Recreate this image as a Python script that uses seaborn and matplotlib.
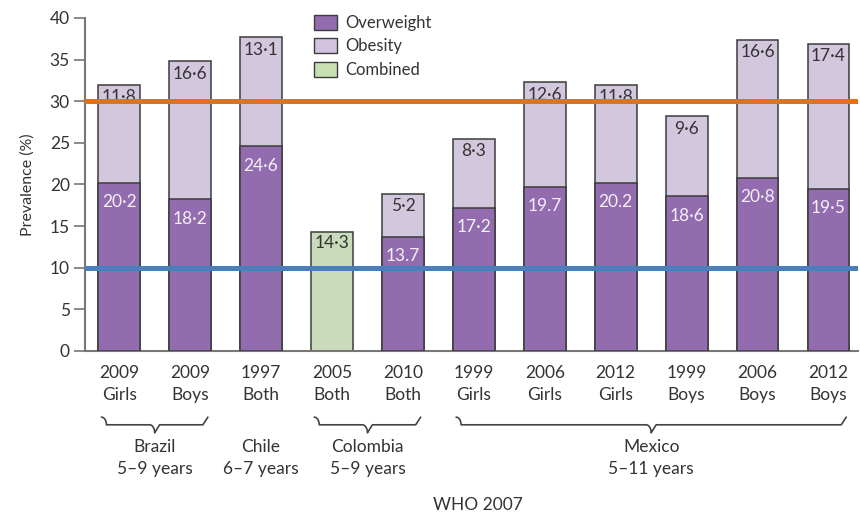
import numpy as np
import pandas as pd
import seaborn as sns
import matplotlib.pyplot as plt
from matplotlib.patches import Patch

# Datos
anios = ["2009", "2009", "1997", "2005", "2010", "1999", "2006", "2012", "1999", "2006", "2012"]
sexos = ["Girls", "Boys", "Both", "Both", "Both", "Girls", "Girls", "Girls", "Boys", "Boys", "Boys"]
sobrepeso = [20.2, 18.2, 24.6, np.nan, 13.7, 17.2, 19.7, 20.2, 18.6, 20.8, 19.5]
obesidad = [11.8, 16.6, 13.1, np.nan, 5.2, 8.3, 12.6, 11.8, 9.6, 16.6, 17.4]
combinado = [np.nan, np.nan, np.nan, 14.3, np.nan, np.nan, np.nan, np.nan, np.nan, np.nan, np.nan]
etq_sobrepeso = ["20·2", "18·2", "24·6", "", "13.7", "17·2", "19.7", "20.2", "18·6", "20·8", "19·5"]
etq_obesidad = ["11·8", "16·6", "13·1", "", "5·2", "8·3", "12·6", "11·8", "9·6", "16·6", "17·4"]
etq_combinado = ["", "", "", "14·3", "", "", "", "", "", "", ""]

# Grupos (país, edades, primer índice, último índice)
grupos = [("Brazil", "5–9 years", 0, 1), ("Chile", "6–7 years", 2, 2),
          ("Colombia", "5–9 years", 3, 4), ("Mexico", "5–11 years", 5, 10)]

umbral_alto = 30
umbral_bajo = 10

C_SOBRE = "#926cae"
C_OBES = "#d2c3e0"
C_COMB = "#c9e0b4"
C_BORDE = "#3c3c3c"
C_TEXTO = "#333333"


def dibujar_llave(ax, x0, x1, y_ext, y_mid, y_punta, rx=0.07, color="#444444"):
    """Llave horizontal en coords mixtas (x datos, y fracción de ejes)."""
    t = np.linspace(0, np.pi / 2, 15)
    xc = (x0 + x1) / 2
    dy1 = y_ext - y_mid
    dy2 = y_mid - y_punta
    xs, ys = [], []
    # extremo izquierdo
    xs += list(x0 + rx * np.sin(t))
    ys += list(y_mid + dy1 * np.cos(t))
    # bajada hacia la punta
    xs += list(xc - rx + rx * np.sin(t))
    ys += list(y_mid - dy2 * (1 - np.cos(t)))
    # subida desde la punta
    xs += list(xc + rx - rx * np.cos(t))
    ys += list(y_punta + dy2 * (1 - np.cos(t)))
    # extremo derecho
    xs += list(x1 - rx * np.cos(t))
    ys += list(y_mid + dy1 * (1 - np.cos(t)))
    ax.plot(xs, ys, color=color, lw=1.2, transform=ax.get_xaxis_transform(),
            clip_on=False, solid_capstyle="round")


sns.set_theme(style="white")
plt.rcParams["font.family"] = ["Lato", "DejaVu Sans"]

df = pd.DataFrame({
    "clave": [f"{a} {s}" for a, s in zip(anios, sexos)],
    "sobrepeso": sobrepeso,
    "obesidad": obesidad,
    "combinado": combinado,
})
df["total"] = df["sobrepeso"].fillna(0) + df["obesidad"].fillna(0) + df["combinado"].fillna(0)
df["tipo"] = np.where(df["combinado"].notna(), "Combined", "Stack")
orden = list(df["clave"])

fig = plt.figure(figsize=(8.6, 5.13), dpi=100)
ax = fig.add_axes([0.099, 0.316, 0.899, 0.649])

ancho = 0.59
sns.barplot(data=df, x="clave", y="total", order=orden, hue="tipo",
            palette={"Stack": C_OBES, "Combined": C_COMB}, dodge=False,
            width=ancho, edgecolor=C_BORDE, linewidth=1.1, legend=False, ax=ax, zorder=2)
sns.barplot(data=df[df["sobrepeso"].notna()], x="clave", y="sobrepeso", order=orden,
            color=C_SOBRE, saturation=1, width=ancho, edgecolor=C_BORDE, linewidth=1.1,
            ax=ax, zorder=3)

# Etiquetas de valor
for i in range(len(orden)):
    if not np.isnan(sobrepeso[i]):
        ax.annotate(etq_sobrepeso[i], (i, sobrepeso[i]), xytext=(0, -14), textcoords="offset points",
                    ha="center", va="center", fontsize=12.5, color="#f4f0f8", zorder=4)
        ax.annotate(etq_obesidad[i], (i, sobrepeso[i] + obesidad[i]), xytext=(0, -9),
                    textcoords="offset points", ha="center", va="center", fontsize=12.5,
                    color=C_TEXTO, zorder=4)
    if not np.isnan(combinado[i]):
        ax.annotate(etq_combinado[i], (i, combinado[i]), xytext=(0, -8), textcoords="offset points",
                    ha="center", va="center", fontsize=12.5, color=C_TEXTO, zorder=4)

# Líneas de umbral
ax.axhline(umbral_alto, color="#e8700f", lw=3.6, zorder=6)
ax.axhline(umbral_bajo, color="#4a7fbd", lw=3.6, zorder=6)

# Ejes
ax.set_xlim(-0.48, len(orden) - 1 + 0.42)
ax.set_ylim(0, 40)
ax.set_yticks(range(0, 41, 5))
ax.set_xticks(range(len(orden)))
ax.set_xticklabels([f"{a}\n{s}" for a, s in zip(anios, sexos)], fontsize=12.5, color=C_TEXTO,
                   linespacing=1.45)
ax.tick_params(axis="x", length=0, pad=10)
ax.tick_params(axis="y", length=8, width=1.2, color="#777777", labelsize=12.5,
               labelcolor=C_TEXTO, pad=3, left=True)
ax.set_xlabel("")
ax.set_ylabel("Prevalence (%)", fontsize=11.5, color=C_TEXTO, labelpad=11)
for lado in ["top", "right"]:
    ax.spines[lado].set_visible(False)
for lado in ["left", "bottom"]:
    ax.spines[lado].set_color("#777777")
    ax.spines[lado].set_linewidth(1.5)

# Llaves y nombres de país
for pais, edad, i0, i1 in grupos:
    xc = (i0 + i1) / 2
    if i1 > i0:
        dibujar_llave(ax, i0 - 0.25, i1 + 0.25, -0.199, -0.222, -0.246)
    ax.text(xc, -0.266, f"{pais}\n{edad}", transform=ax.get_xaxis_transform(),
            ha="center", va="top", fontsize=12.5, color=C_TEXTO, linespacing=1.45)

# Leyenda
manejadores = [Patch(facecolor=C_SOBRE, edgecolor=C_BORDE, label="Overweight"),
               Patch(facecolor=C_OBES, edgecolor=C_BORDE, label="Obesity"),
               Patch(facecolor=C_COMB, edgecolor=C_BORDE, label="Combined")]
leg = ax.legend(handles=manejadores, loc="upper left", bbox_to_anchor=(0.276, 1.055),
                frameon=False, fontsize=12, handlelength=1.4, handleheight=1.0,
                handletextpad=0.5, labelspacing=0.45)
for t in leg.get_texts():
    t.set_color(C_TEXTO)

fig.text(0.556, 0.016, "WHO 2007", ha="center", va="center", fontsize=12.5, color=C_TEXTO)

fig.savefig("out.png", dpi=100)
